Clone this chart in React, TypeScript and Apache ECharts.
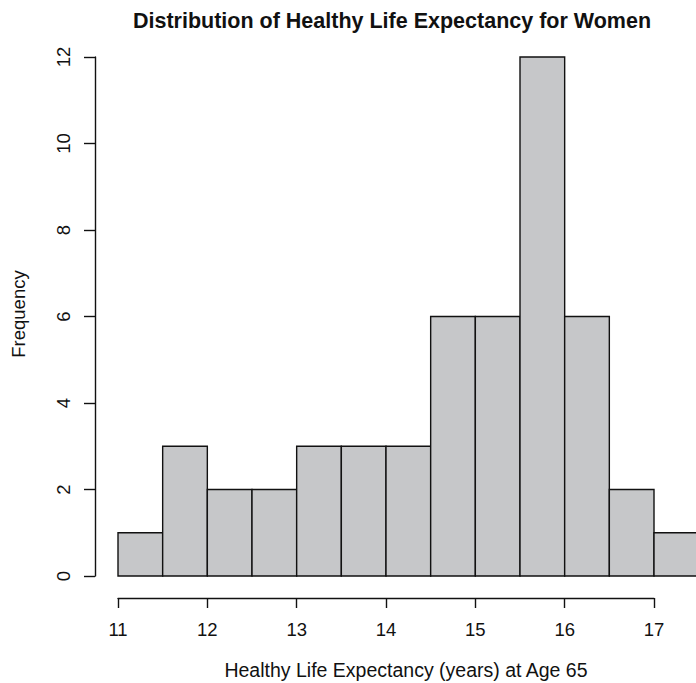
import React, { useEffect, useRef } from "react";
import * as echarts from "echarts";

const binStarts = [11, 11.5, 12, 12.5, 13, 13.5, 14, 14.5, 15, 15.5, 16, 16.5, 17];
const binWidth = 0.5;
const frequencies = [1, 3, 2, 2, 3, 3, 3, 6, 6, 12, 6, 2, 1];
const titleText = "Distribution of Healthy Life Expectancy for Women";
const xTitle = "Healthy Life Expectancy (years) at Age 65";
const yTitle = "Frequency";

const FONT = "'Liberation Sans', Arial, Helvetica, sans-serif";

export default function App() {
  const ref = useRef<HTMLDivElement>(null);
  useEffect(() => {
    if (!ref.current) return;
    const chart = echarts.init(ref.current, undefined, { renderer: "svg" });
    const data = binStarts.map((s, i) => [s, s + binWidth, frequencies[i]]);
    chart.setOption({
      animation: false,
      backgroundColor: "#ffffff",
      grid: { left: 118, right: 42, top: 57, bottom: 107 },
      xAxis: {
        type: "value",
        min: 11,
        max: 17,
        interval: 1,
        offset: 22,
        splitLine: { show: false },
        axisLine: { show: true, onZero: false, lineStyle: { color: "#111", width: 1.4 } },
        axisTick: { show: true, length: 10, lineStyle: { color: "#111", width: 1.4 } },
        axisLabel: { fontSize: 18.5, margin: 22, color: "#111", fontFamily: FONT },
      },
      yAxis: {
        type: "value",
        min: 0,
        max: 12,
        interval: 2,
        offset: 23,
        splitLine: { show: false },
        axisLine: { show: true, onZero: false, lineStyle: { color: "#111", width: 1.4 } },
        axisTick: { show: true, length: 11, lineStyle: { color: "#111", width: 1.4 } },
        axisLabel: { fontSize: 18.5, margin: 22, rotate: 90, color: "#111", fontFamily: FONT },
      },
      series: [
        {
          type: "custom",
          clip: false,
          data,
          encode: { x: [0, 1], y: 2 },
          renderItem: (params: any, api: any) => {
            const x0 = api.value(0);
            const x1 = api.value(1);
            const c = api.value(2);
            const p0 = api.coord([x0, c]);
            const p1 = api.coord([x1, 0]);
            return {
              type: "rect",
              shape: { x: p0[0], y: p0[1], width: p1[0] - p0[0], height: p1[1] - p0[1] },
              style: { fill: "#c6c7c9", stroke: "#111", lineWidth: 1.4 },
            };
          },
        },
      ],
      graphic: [
        {
          type: "text",
          x: 392,
          y: 21,
          style: {
            text: titleText,
            font: `bold 21.5px ${FONT}`,
            fill: "#111",
            textAlign: "center",
            textVerticalAlign: "middle",
          },
        },
        {
          type: "text",
          x: 406,
          y: 670,
          style: {
            text: xTitle,
            font: `19.5px ${FONT}`,
            fill: "#111",
            textAlign: "center",
            textVerticalAlign: "middle",
          },
        },
        {
          type: "text",
          x: 18.5,
          y: 314,
          rotation: Math.PI / 2,
          style: {
            text: yTitle,
            font: `18.5px ${FONT}`,
            fill: "#111",
            textAlign: "center",
            textVerticalAlign: "middle",
          },
        },
      ],
    });
    return () => chart.dispose();
  }, []);
  return (
    <div
      ref={ref}
      style={{ position: "fixed", left: 0, top: 0, width: 696, height: 683 }}
    />
  );
}
